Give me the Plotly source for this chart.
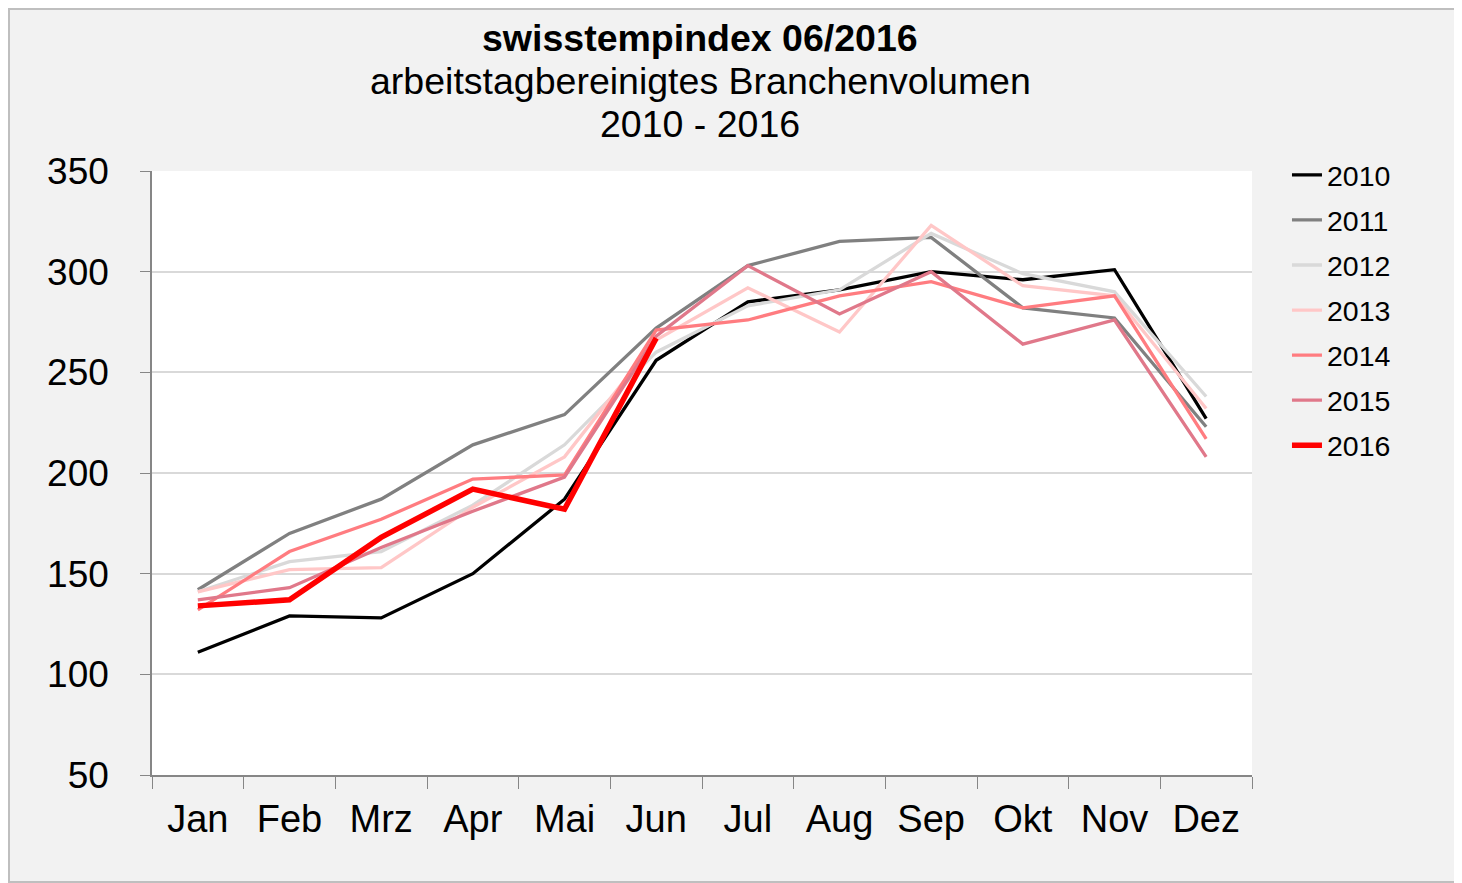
import plotly.graph_objects as go

# months and yearly index values
months = ["Jan", "Feb", "Mrz", "Apr", "Mai", "Jun", "Jul", "Aug", "Sep", "Okt", "Nov", "Dez"]

y2010 = [111, 129, 128, 150, 187, 256, 285, 291, 300, 296, 301, 227]
y2011 = [142, 170, 187, 214, 229, 272, 303, 315, 317, 282, 277, 223]
y2012 = [141, 156, 161, 184, 214, 260, 283, 291, 319, 299, 290, 238]
y2013 = [141, 152, 153, 183, 208, 266, 292, 270, 323, 293, 288, 232]
y2014 = [132, 161, 177, 197, 199, 271, 276, 288, 295, 282, 288, 217]
y2015 = [137, 143, 163, 181, 198, 268, 303, 279, 300, 264, 276, 208]
y2016 = [134, 137, 168, 192, 182, 267]

years = ["2010", "2011", "2012", "2013", "2014", "2015", "2016"]
series = [y2010, y2011, y2012, y2013, y2014, y2015, y2016]
colors = ["#000000", "#808080", "#d9d9d9", "#ffc7c7", "#ff7c80", "#e0788a", "#ff0000"]
widths = [3.3, 3.3, 3.3, 3.3, 3.3, 3.3, 5.5]

FONT = "Liberation Sans, Arial, sans-serif"

# the page adds an 8px body margin, so the figure is 8px smaller and shifted
W, H = 1454, 875
ML, MT, MR, MB = 144, 163, 210, 108
PW, PH = W - ML - MR, H - MT - MB

fig = go.Figure()
for i, yr in enumerate(years):
    vals = series[i]
    fig.add_trace(go.Scatter(
        x=months[:len(vals)],
        y=vals,
        mode="lines",
        name=yr,
        legendgroup=yr,
        line=dict(color=colors[i], width=widths[i]),
    ))

fig.update_layout(
    width=W,
    height=H,
    paper_bgcolor="#f2f2f2",
    plot_bgcolor="#ffffff",
    margin=dict(l=ML, r=MR, t=MT, b=MB),
    font=dict(family=FONT, color="#000000"),
    showlegend=True,
    legend=dict(
        x=1.0318, xanchor="left",
        y=1.035, yanchor="top",
        font=dict(size=28.5, family=FONT),
        bgcolor="rgba(0,0,0,0)",
        tracegroupgap=5,
        itemwidth=30,
    ),
    xaxis=dict(
        type="category",
        categoryorder="array",
        categoryarray=months,
        range=[-0.5, 11.5],
        showgrid=False,
        showline=True,
        linecolor="#868686",
        linewidth=1.5,
        ticks="outside",
        tickson="boundaries",
        ticklen=12,
        tickcolor="#868686",
        ticklabelstandoff=10,
        tickfont=dict(size=38, family=FONT),
    ),
    yaxis=dict(
        range=[50, 350],
        dtick=50,
        showgrid=True,
        gridcolor="#d9d9d9",
        gridwidth=1.5,
        showline=True,
        linecolor="#868686",
        linewidth=1.5,
        ticks="outside",
        ticklen=10,
        tickcolor="#868686",
        ticklabelstandoff=24,
        tickfont=dict(size=37, family=FONT),
        zeroline=False,
    ),
)

# title lines
title_lines = ["<b>swisstempindex 06/2016</b>", "arbeitstagbereinigtes Branchenvolumen", "2010 - 2016"]
title_y = [38, 81, 124]
for txt, ty in zip(title_lines, title_y):
    fig.add_annotation(text=txt, xref="paper", yref="paper",
                       x=(700 - 152) / PW, y=(775 - ty) / PH, showarrow=False,
                       font=dict(size=37.5, family=FONT), xanchor="center", yanchor="middle")

# outer chart border
fig.add_shape(type="rect", xref="paper", yref="paper",
              x0=-(ML - 1) / PW, x1=(W - ML - 1) / PW, y0=-(MB - 1) / PH, y1=(PH + MT - 1) / PH,
              line=dict(color="#bfbfbf", width=2), fillcolor="rgba(0,0,0,0)", layer="below")

fig.write_html("out.html")
